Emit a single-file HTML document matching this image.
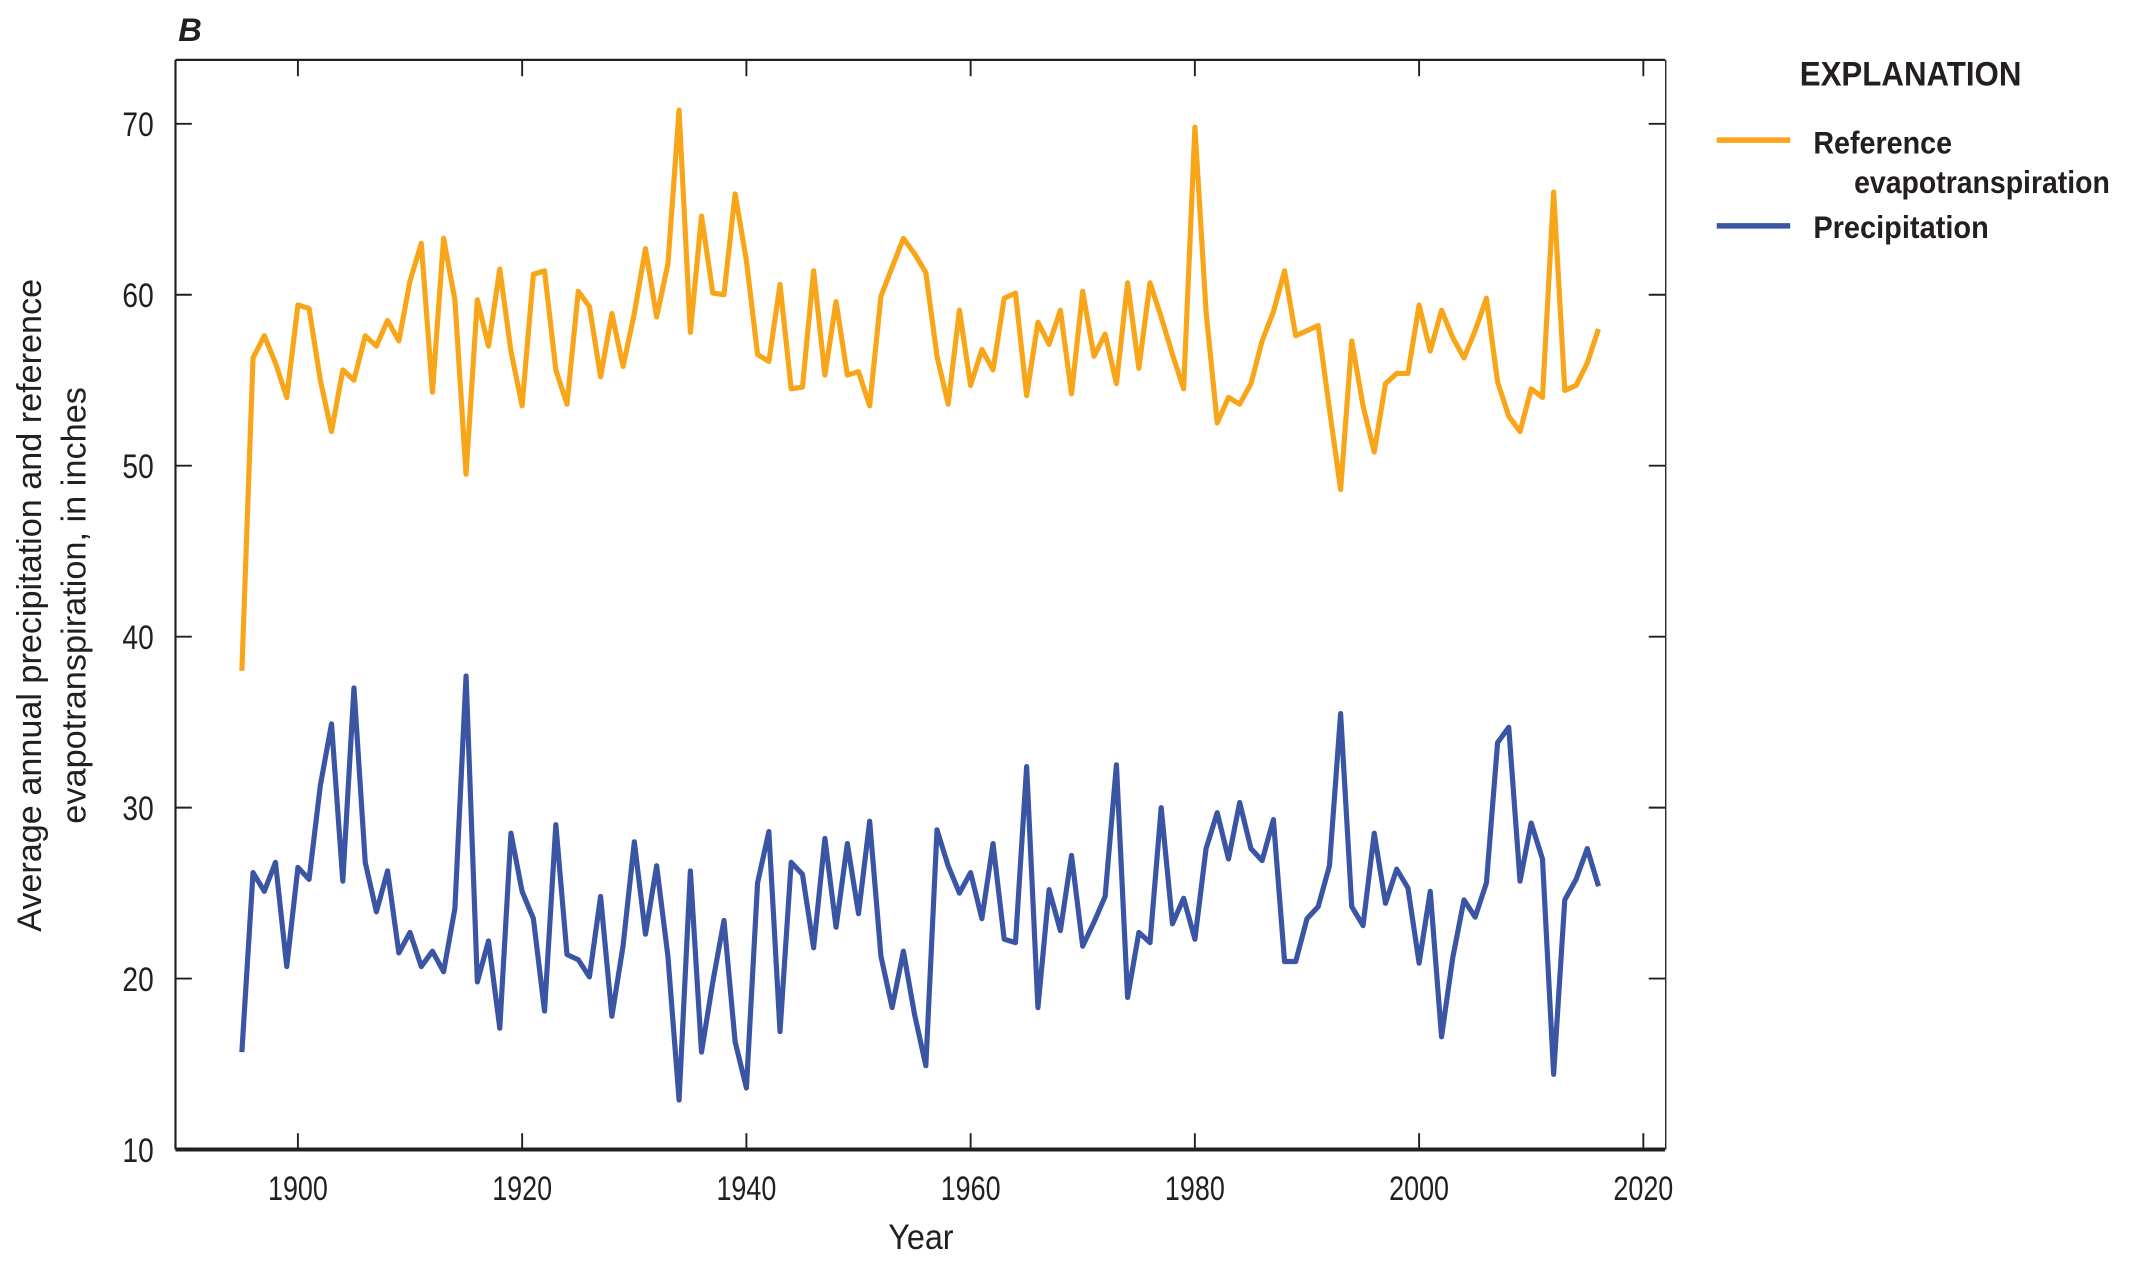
<!DOCTYPE html>
<html><head><meta charset="utf-8"><style>html,body{margin:0;padding:0;background:#fff}svg{display:block}</style></head>
<body>
<svg id="c" width="2133" height="1266" viewBox="0 0 1568 930.6" xmlns="http://www.w3.org/2000/svg" font-family="'Liberation Sans Narrow','Liberation Sans',sans-serif" fill="#231f20">
<rect width="1568" height="930.6" fill="#fff"/>
<text x="131" y="30" font-size="24" font-weight="bold" font-style="italic">B</text>
<g stroke="#231f20" fill="none">
<line x1="129" y1="44" x2="1224" y2="44" stroke-width="1.6"/>
<line x1="129" y1="44" x2="129" y2="845" stroke-width="1.6"/>
<line x1="1224.5" y1="44" x2="1224.5" y2="845" stroke-width="1"/>
<line x1="129" y1="845" x2="1224" y2="845" stroke-width="3"/>
<g id="ticks" stroke-width="1.4"></g>
</g>
<g id="lab" font-size="25"></g>
<text x="677" y="918" font-size="26" text-anchor="middle" textLength="48" lengthAdjust="spacingAndGlyphs">Year</text>
<text transform="translate(30,445) rotate(-90)" font-size="25" text-anchor="middle" textLength="480" lengthAdjust="spacingAndGlyphs">Average annual precipitation and reference</text>
<text transform="translate(63,445) rotate(-90)" font-size="25" text-anchor="middle" textLength="321" lengthAdjust="spacingAndGlyphs">evapotranspiration, in inches</text>
<text x="1323" y="63" font-size="25" font-weight="bold" textLength="163" lengthAdjust="spacingAndGlyphs">EXPLANATION</text>
<line x1="1262" y1="103" x2="1316" y2="103" stroke="#F9A51A" stroke-width="4"/>
<line x1="1262" y1="166" x2="1316" y2="166" stroke="#3A55A4" stroke-width="4"/>
<text x="1333" y="113" font-size="23" font-weight="bold" textLength="102" lengthAdjust="spacingAndGlyphs">Reference</text>
<text x="1363" y="142" font-size="23" font-weight="bold" textLength="188" lengthAdjust="spacingAndGlyphs">evapotranspiration</text>
<text x="1333" y="175" font-size="23" font-weight="bold" textLength="129" lengthAdjust="spacingAndGlyphs">Precipitation</text>
<polyline id="ret" fill="none" stroke="#F9A51A" stroke-width="3.8" stroke-linejoin="round"/>
<polyline id="pre" fill="none" stroke="#3A55A4" stroke-width="3.8" stroke-linejoin="round"/>
</svg>
<script>
var R=[38,56.3,57.6,56,54,59.4,59.2,55,52,55.6,55,57.6,57,58.5,57.3,60.8,63,54.3,63.3,59.7,49.5,59.7,57,61.5,56.7,53.5,61.2,61.4,55.6,53.6,60.2,59.3,55.2,58.9,55.8,58.9,62.7,58.7,61.8,70.8,57.8,64.6,60.1,60,65.9,62,56.5,56.1,60.6,54.5,54.6,61.4,55.3,59.6,55.3,55.5,53.5,59.9,61.6,63.3,62.4,61.3,56.4,53.6,59.1,54.7,56.8,55.6,59.8,60.1,54.1,58.4,57.1,59.1,54.2,60.2,56.4,57.7,54.8,60.7,55.7,60.7,58.7,56.5,54.5,69.8,59,52.5,54,53.6,54.8,57.3,59,61.4,57.6,57.9,58.2,53.3,48.6,57.3,53.5,50.8,54.8,55.4,55.4,59.4,56.7,59.1,57.5,56.3,57.9,59.8,54.9,52.9,52,54.5,54,66,54.4,54.7,56,58];
var P=[15.7,26.2,25.1,26.8,20.7,26.5,25.8,31.3,34.9,25.7,37,26.8,23.9,26.3,21.5,22.7,20.7,21.6,20.4,24.1,37.7,19.8,22.2,17.1,28.5,25.1,23.5,18.1,29,21.4,21.1,20.1,24.8,17.8,21.9,28,22.6,26.6,21.3,12.9,26.3,15.7,19.8,23.4,16.3,13.6,25.6,28.6,16.9,26.8,26.1,21.8,28.2,23,27.9,23.8,29.2,21.3,18.3,21.6,17.9,14.9,28.7,26.6,25,26.2,23.5,27.9,22.3,22.1,32.4,18.3,25.2,22.8,27.2,21.9,23.3,24.8,32.5,18.9,22.7,22.1,30,23.2,24.7,22.3,27.6,29.7,27,30.3,27.6,26.9,29.3,21,21,23.5,24.2,26.6,35.5,24.2,23.1,28.5,24.4,26.4,25.3,20.9,25.1,16.6,21.2,24.6,23.6,25.6,33.8,34.7,25.7,29.1,27,14.4,24.6,25.8,27.6,25.4];
function X(y){return 219+(y-1900)*8.242}function Y(v){return 845-(v-10)*12.567}
function pts(a){return a.map(function(v,i){return X(1895+i).toFixed(1)+","+Y(v).toFixed(1)}).join(" ")}
document.getElementById("ret").setAttribute("points",pts(R));
document.getElementById("pre").setAttribute("points",pts(P));
var t="",l="";
for(var v=10;v<=70;v+=10){var y=Y(v);t+='<line x1="129" y1="'+y+'" x2="141" y2="'+y+'"/><line x1="1212" y1="'+y+'" x2="1224" y2="'+y+'"/>';
l+='<text x="113" y="'+(y+9)+'" text-anchor="end" textLength="23" lengthAdjust="spacingAndGlyphs">'+v+'</text>';}
for(var yr=1900;yr<=2020;yr+=20){var x=X(yr);t+='<line x1="'+x+'" y1="845" x2="'+x+'" y2="833"/><line x1="'+x+'" y1="44" x2="'+x+'" y2="56"/>';
l+='<text x="'+(x-22)+'" y="882" textLength="44" lengthAdjust="spacingAndGlyphs">'+yr+'</text>';}
document.getElementById("ticks").innerHTML=t;document.getElementById("lab").innerHTML=l;
</script>
</body></html>
